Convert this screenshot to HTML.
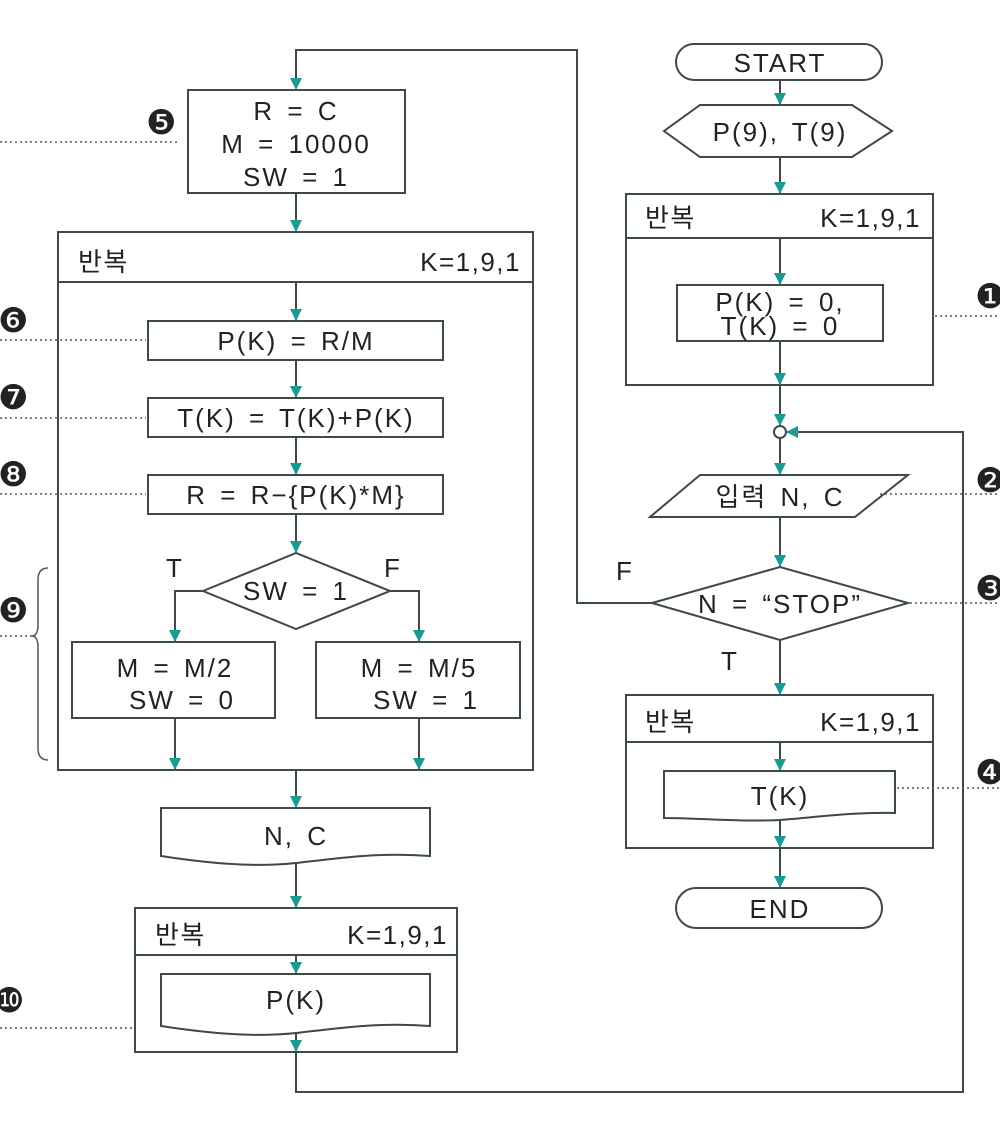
<!DOCTYPE html>
<html><head><meta charset="utf-8"><style>
html,body{margin:0;padding:0;background:#fff;}
svg{display:block;}
text{font-family:"Liberation Sans","Noto Sans CJK KR",sans-serif;fill:#222;}
.n{font-family:"DejaVu Sans",sans-serif;}
.t{letter-spacing:2px;word-spacing:4px;}
</style></head><body>
<svg width="1000" height="1121" viewBox="0 0 1000 1121" xmlns="http://www.w3.org/2000/svg">
<defs>
<g id="ar"><path d="M-6,-12 L6,-12 L0,0 Z" fill="#1a9a90"/></g>
</defs>
<g fill="none" stroke="#3c4a48" stroke-width="2">
<polyline points="652,603 577,603 577,50 296,50 296,88"/>
<line x1="296" y1="193" x2="296" y2="232"/>
<line x1="296" y1="282" x2="296" y2="321"/>
<line x1="296" y1="360" x2="296" y2="398"/>
<line x1="296" y1="437" x2="296" y2="475"/>
<line x1="296" y1="514" x2="296" y2="553"/>
<polyline points="203,591 175,591 175,642"/>
<polyline points="390,591 419,591 419,642"/>
<line x1="175" y1="718" x2="175" y2="770"/>
<line x1="419" y1="718" x2="419" y2="770"/>
<line x1="296" y1="770" x2="296" y2="808"/>
<line x1="296" y1="862" x2="296" y2="908"/>
<line x1="296" y1="955" x2="296" y2="974"/>
<polyline points="296,1033 296,1092 963,1092 963,432 787,432"/>
<rect x="188" y="90" width="217" height="103"/>
<rect x="58" y="232" width="475" height="538"/>
<line x1="58" y1="282" x2="533" y2="282"/>
<rect x="148" y="321" width="295" height="39"/>
<rect x="148" y="398" width="295" height="39"/>
<rect x="148" y="475" width="295" height="39"/>
<polygon points="203,591 296,553 390,591 296,629"/>
<rect x="72" y="642" width="203" height="76"/>
<rect x="316" y="642" width="204" height="76"/>
<path d="M161,808 H430 V856 C380,852 340,858 296,863 C250,868 200,862 161,856 Z"/>
<rect x="135" y="908" width="322" height="144"/>
<line x1="135" y1="955" x2="457" y2="955"/>
<path d="M161,974 H430 V1026 C380,1022 340,1028 296,1033 C250,1038 200,1032 161,1026 Z"/>
<rect x="676" y="44" width="206" height="36" rx="18"/>
<line x1="780" y1="80" x2="780" y2="105"/>
<polygon points="664,131 700,105 852,105 892,131 852,157 700,157"/>
<line x1="780" y1="157" x2="780" y2="194"/>
<rect x="626" y="194" width="307" height="191"/>
<line x1="626" y1="238" x2="933" y2="238"/>
<line x1="780" y1="238" x2="780" y2="285"/>
<rect x="677" y="285" width="206" height="56"/>
<line x1="780" y1="341" x2="780" y2="426"/>
<circle cx="780" cy="432" r="6" fill="#fff"/>
<line x1="780" y1="438" x2="780" y2="475"/>
<polygon points="700,475 908,475 855,517 650,517"/>
<line x1="780" y1="517" x2="780" y2="567"/>
<polygon points="652,603 780,567 908,603 780,640"/>
<line x1="780" y1="640" x2="780" y2="695"/>
<rect x="626" y="695" width="307" height="153"/>
<line x1="626" y1="742" x2="933" y2="742"/>
<line x1="780" y1="742" x2="780" y2="771"/>
<path d="M664,771 H895 V813 C850,812 820,817 780,820 C740,822 700,818 664,818 Z"/>
<line x1="780" y1="820" x2="780" y2="888"/>
<rect x="676" y="888" width="206" height="40" rx="20"/>
</g>
<g>
<use href="#ar" x="296" y="90"/>
<use href="#ar" x="296" y="232"/>
<use href="#ar" x="296" y="321"/>
<use href="#ar" x="296" y="398"/>
<use href="#ar" x="296" y="475"/>
<use href="#ar" x="296" y="553"/>
<use href="#ar" x="175" y="642"/>
<use href="#ar" x="419" y="642"/>
<use href="#ar" x="175" y="770"/>
<use href="#ar" x="419" y="770"/>
<use href="#ar" x="296" y="808"/>
<use href="#ar" x="296" y="908"/>
<use href="#ar" x="296" y="974"/>
<use href="#ar" x="296" y="1052"/>
<use href="#ar" x="780" y="105"/>
<use href="#ar" x="780" y="194"/>
<use href="#ar" x="780" y="285"/>
<use href="#ar" x="780" y="385"/>
<use href="#ar" x="780" y="426"/>
<use href="#ar" x="780" y="475"/>
<use href="#ar" x="780" y="567"/>
<use href="#ar" x="780" y="695"/>
<use href="#ar" x="780" y="771"/>
<use href="#ar" x="780" y="848"/>
<use href="#ar" x="780" y="888"/>
<path d="M786,432 L798,426 L798,438 Z" fill="#1a9a90"/>
</g>
<g stroke="#555" stroke-width="1.5" stroke-dasharray="2,3" fill="none">
<line x1="0" y1="142" x2="180" y2="142"/>
<line x1="0" y1="340" x2="146" y2="340"/>
<line x1="0" y1="418" x2="146" y2="418"/>
<line x1="0" y1="494" x2="146" y2="494"/>
<line x1="0" y1="636" x2="32" y2="636"/>
<line x1="0" y1="1028" x2="133" y2="1028"/>
<line x1="935" y1="316" x2="1000" y2="316"/>
<line x1="880" y1="494" x2="1000" y2="494"/>
<line x1="910" y1="603" x2="1000" y2="603"/>
<line x1="897" y1="788" x2="1000" y2="788"/>
</g>
<path d="M48,568 Q38,568 38,580 L38,624 Q38,636 32,636 Q38,636 38,648 L38,748 Q38,760 48,760" fill="none" stroke="#555" stroke-width="1.5"/>
<g font-size="26" text-anchor="middle" class="t">
<text class="t" x="296" y="120">R = C</text>
<text class="t" x="296" y="153">M = 10000</text>
<text class="t" x="296" y="186">SW = 1</text>
<text class="t" x="296" y="350">P(K) = R/M</text>
<text class="t" x="296" y="427">T(K) = T(K)+P(K)</text>
<text class="t" x="296" y="504">R = R−{P(K)*M}</text>
<text class="t" x="296" y="600">SW = 1</text>
<text class="t" x="175" y="677">M = M/2</text>
<text class="t" x="182" y="709">SW = 0</text>
<text class="t" x="419" y="677">M = M/5</text>
<text class="t" x="426" y="709">SW = 1</text>
<text class="t" x="296" y="845">N, C</text>
<text class="t" x="296" y="1009">P(K)</text>
<text class="t" x="780" y="72">START</text>
<text class="t" x="780" y="141">P(9), T(9)</text>
<text class="t" x="780" y="311">P(K) = 0,</text>
<text class="t" x="780" y="335">T(K) = 0</text>
<text class="t" x="780" y="506">입력 N, C</text>
<text class="t" x="780" y="613">N = “STOP”</text>
<text class="t" x="780" y="805">T(K)</text>
<text class="t" x="780" y="918">END</text>
<text x="175" y="577">T</text>
<text x="393" y="577">F</text>
<text x="625" y="580">F</text>
<text x="730" y="670">T</text>
</g>
<g font-size="26" style="letter-spacing:1.5px">
<text x="78" y="271">반복</text>
<text x="521" y="271" text-anchor="end">K=1,9,1</text>
<text x="645" y="227">반복</text>
<text x="921" y="227" text-anchor="end">K=1,9,1</text>
<text x="645" y="731">반복</text>
<text x="921" y="731" text-anchor="end">K=1,9,1</text>
<text x="155" y="944">반복</text>
<text x="448" y="944" text-anchor="end">K=1,9,1</text>
</g>
<g font-size="34">
<text class="n" x="146" y="134">❺</text>
<text class="n" x="-2" y="332">❻</text>
<text class="n" x="-2" y="409">❼</text>
<text class="n" x="-2" y="486">❽</text>
<text class="n" x="-2" y="622">❾</text>
<text class="n" x="-6" y="1012">❿</text>
<text class="n" x="975" y="308">❶</text>
<text class="n" x="975" y="492">❷</text>
<text class="n" x="975" y="600">❸</text>
<text class="n" x="975" y="784">❹</text>
</g>
</svg>
</body></html>
